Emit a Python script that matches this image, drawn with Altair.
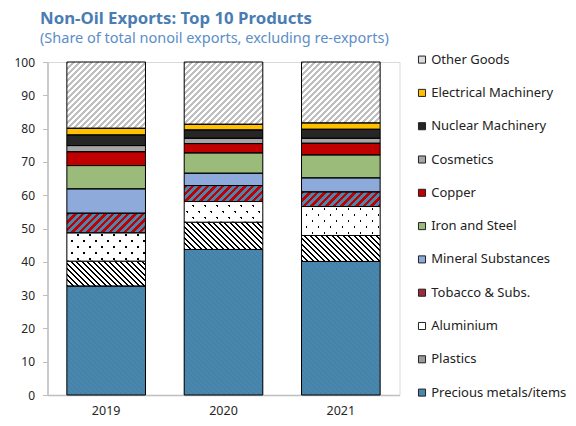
import altair as alt

# ---------------- data ----------------
years = ["2019", "2020", "2021"]
products = ["Precious metals/items", "Plastics", "Aluminium", "Tobacco & Subs.",
            "Mineral Substances", "Iron and Steel", "Copper", "Cosmetics",
            "Nuclear Machinery", "Electrical Machinery", "Other Goods"]
precious = [32.7, 43.7, 40.1]
plastics = [7.5, 8.2, 7.8]
aluminium = [8.5, 6.2, 8.7]
tobacco = [5.9, 4.8, 4.4]
mineral = [7.3, 3.7, 4.2]
iron_steel = [7.0, 6.1, 6.9]
copper = [4.15, 2.8, 3.5]
cosmetics = [1.85, 1.6, 1.5]
nuclear = [3.2, 2.5, 2.7]
electrical = [2.0, 1.7, 1.9]
other = [19.9, 18.7, 18.3]
y_ticks = [0, 10, 20, 30, 40, 50, 60, 70, 80, 90, 100]

series = [precious, plastics, aluminium, tobacco, mineral, iron_steel,
          copper, cosmetics, nuclear, electrical, other]

# ---------------- styling ----------------
W_PLOT, H_PLOT = 352, 333
PAD_INNER = 0.33
BAR_W = W_PLOT / 3 * (1 - PAD_INNER)
BLUE = "#4a87ae"
CLEAR = "rgba(255,255,255,0)"
FONT = "Noto Sans"

solid = {
    "Mineral Substances": "#8eaadb",
    "Iron and Steel": "#9bbb7b",
    "Copper": "#c00000",
    "Cosmetics": "#a6a6a6",
    "Nuclear Machinery": "#262626",
    "Electrical Machinery": "#ffc000",
}
legend_colors = {
    "Other Goods": "#dcdcdc",
    "Electrical Machinery": "#ffc000",
    "Nuclear Machinery": "#262626",
    "Cosmetics": "#a6a6a6",
    "Copper": "#c00000",
    "Iron and Steel": "#9bbb7b",
    "Mineral Substances": "#8eaadb",
    "Tobacco & Subs.": "#a02a3c",
    "Aluminium": "#ffffff",
    "Plastics": "#9a9a9a",
    "Precious metals/items": BLUE,
}


def stripes(w, h, c1, c2, period, frac, direction):
    """Repeating hard-stop linear gradient giving 45deg stripes in screen space."""
    if direction == "h":
        x1, y1, x2, y2 = 0, 0, 0, 1
        n = h / period
    else:
        k = (w + h) / (w * w + h * h)
        n = (w + h) / period
        if direction == "/":
            x1, y1, x2, y2 = 0, 0, k * w, k * h
        else:
            x1, y1, x2, y2 = 0, 1, k * w, 1 - k * h
    step = 1.0 / max(n, 0.5)
    stops = []
    j = 0
    while j * step < 1:
        a = j * step
        b = min((j + frac) * step, 1)
        c = min((j + 1) * step, 1)
        stops += [{"offset": a, "color": c1}, {"offset": b, "color": c1},
                  {"offset": b, "color": c2}, {"offset": c, "color": c2}]
        j += 1
    return {"gradient": "linear", "x1": x1, "y1": y1, "x2": x2, "y2": y2, "stops": stops}


records = []
for pi, (prod, vals) in enumerate(zip(products, series)):
    for yr, v in zip(years, vals):
        h = v / 100 * H_PLOT
        g2 = CLEAR
        g3 = CLEAR
        if prod == "Other Goods":
            g = stripes(BAR_W, h, "#bfbfbf", "#ffffff", 6, 0.52, "/")
        elif prod == "Tobacco & Subs.":
            g = stripes(BAR_W, h, "#c00000", BLUE, 7.5, 0.48, "/")
        elif prod == "Plastics":
            g = stripes(BAR_W, h, "#000000", "#ffffff", 5.5, 0.4, "\\")
        elif prod == "Precious metals/items":
            g = stripes(BAR_W, h, "#4682a8", BLUE, 5, 0.4, "\\")
        elif prod == "Aluminium":
            # dots = intersections of two families of transparent diagonal gaps
            g = "#000000"
            g2 = stripes(BAR_W, h, CLEAR, "#ffffff", 12, 0.22, "/")
            g3 = stripes(BAR_W, h, CLEAR, "#ffffff", 12, 0.22, "\\")
        else:
            g = solid[prod]
        records.append({"year": yr, "product": prod, "idx": pi, "value": v,
                        "g": g, "g2": g2, "g3": g3})

data = alt.Data(values=records)
legend_order = products[::-1]

x_enc = alt.X("year:N", title=None,
              scale=alt.Scale(paddingInner=PAD_INNER, paddingOuter=PAD_INNER / 2),
              axis=alt.Axis(labelAngle=0, ticks=False, labelPadding=9, labelFontSize=12.5))
y_enc = alt.Y("value:Q", stack="zero", title=None,
              scale=alt.Scale(domain=[0, 100], nice=False),
              axis=alt.Axis(values=y_ticks, grid=False, tickSize=5, labelPadding=8,
                            labelFontSize=12))
order_enc = alt.Order("idx:Q", sort="ascending")

base_layer = alt.Chart(data).mark_bar().encode(
    x=x_enc, y=y_enc, order=order_enc,
    color=alt.Color("product:N",
                    scale=alt.Scale(domain=legend_order,
                                    range=[legend_colors[p] for p in legend_order]),
                    sort=legend_order,
                    legend=alt.Legend(title=None, orient="none", legendX=368, legendY=-8.9,
                                      symbolType="square", symbolSize=50,
                                      symbolStrokeColor="#222222", symbolStrokeWidth=1,
                                      labelFontSize=13, labelFont=FONT,
                                      labelColor="#222222", rowPadding=19.3,
                                      labelOffset=2.7, padding=0)),
)


def overlay(field, **mark_kw):
    return alt.Chart(data).mark_bar(**mark_kw).encode(
        x=x_enc, y=y_enc, order=order_enc,
        detail="product:N",
        fill=alt.Fill(field + ":N", scale=None),
    )


chart = alt.layer(
    base_layer,
    overlay("g"),
    overlay("g2"),
    overlay("g3", stroke="#000000", strokeWidth=1),
).properties(
    width=W_PLOT, height=H_PLOT,
    padding={"left": 5.5, "right": 0, "top": 2, "bottom": 0},
    title=alt.TitleParams(
        text="Non-Oil Exports: Top 10 Products",
        subtitle="(Share of total nonoil exports, excluding re-exports)",
        anchor="start", frame="group", dx=-7.5, font=FONT, fontSize=16.8, fontWeight="bold",
        color="#4a7db3", subtitleFont=FONT, subtitleFontSize=14.5,
        subtitleColor="#5b8ec8", subtitlePadding=5, offset=7.2,
    ),
).configure_view(
    stroke="#d9d9d9", strokeWidth=1
).configure_axis(
    labelFont=FONT, labelColor="#262626",
    domainColor="#bfbfbf", domainWidth=1.5, tickColor="#bfbfbf",
)

chart.save("out.html", embed_options={"renderer": "svg", "actions": False})
